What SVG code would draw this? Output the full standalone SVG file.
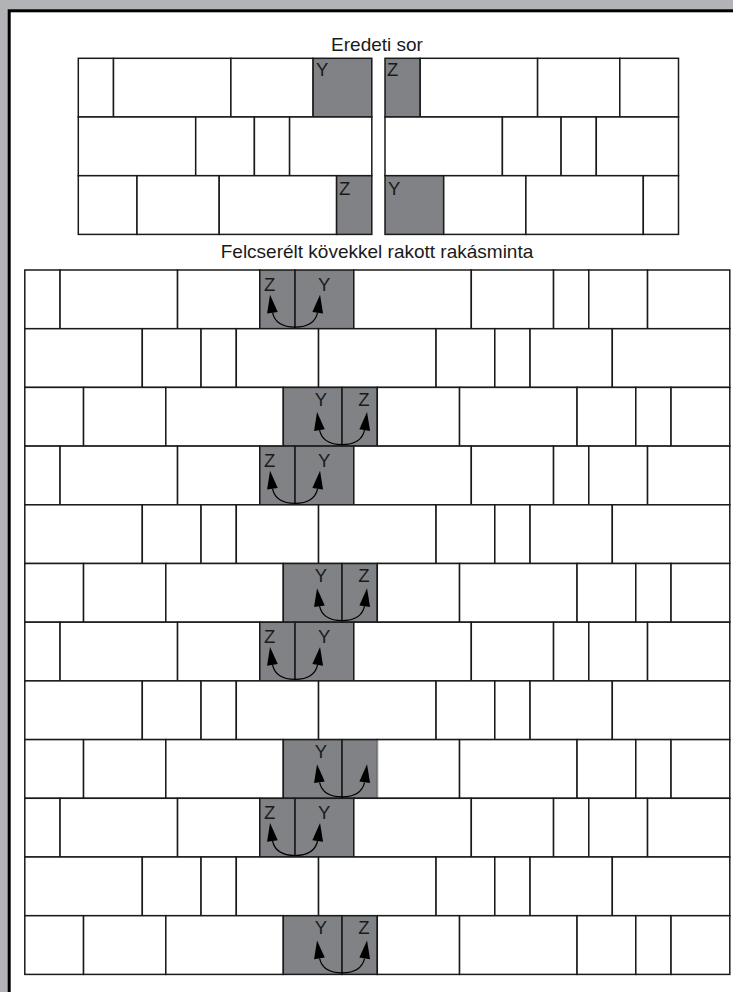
<svg xmlns="http://www.w3.org/2000/svg" xmlns:xlink="http://www.w3.org/1999/xlink" width="733" height="992" viewBox="0 0 733 992">
<style>
.b{fill:#fff;stroke:#1a1a1a;stroke-width:1.5}
.g{fill:#808285;stroke:#1a1a1a;stroke-width:1.5}
.t{font-family:"Liberation Sans",Arial,sans-serif;fill:#1a1a1a}
.title{font-size:19px;text-anchor:middle}
.lbl{font-size:18.5px}
.m{text-anchor:middle}
.arc{fill:none;stroke:#000;stroke-width:1.2}
</style>
<defs>
<g id="swap">
<path class="arc" d="M -22.5 -16 C -20 -5 -11 -1.5 0 -1.5 C 11 -1.5 20 -5 22.5 -16"/>
<polygon points="-25,-34 -28,-15.2 -17.3,-16.8" fill="#000"/>
<polygon points="25,-34 28,-15.2 17.3,-16.8" fill="#000"/>
</g>
</defs>
<rect x="0" y="0" width="733" height="992" fill="#b1b3b6"/>
<rect x="9.2" y="10.8" width="800" height="1100" fill="#fff" stroke="#000" stroke-width="3"/>
<text class="t title" x="377" y="51">Eredeti sor</text>
<g id="original-left">
<rect class="b" x="78.3" y="58.3" width="35.2" height="58.7"/>
<rect class="b" x="113.5" y="58.3" width="117.4" height="58.7"/>
<rect class="b" x="230.9" y="58.3" width="82.2" height="58.7"/>
<rect class="g" x="313.1" y="58.3" width="58.7" height="58.7"/>
<rect class="b" x="78.3" y="117" width="117.4" height="58.7"/>
<rect class="b" x="195.7" y="117" width="58.7" height="58.7"/>
<rect class="b" x="254.4" y="117" width="35.2" height="58.7"/>
<rect class="b" x="289.6" y="117" width="82.2" height="58.7"/>
<rect class="b" x="78.3" y="175.7" width="58.7" height="58.7"/>
<rect class="b" x="137" y="175.7" width="82.2" height="58.7"/>
<rect class="b" x="219.2" y="175.7" width="117.4" height="58.7"/>
<rect class="g" x="336.6" y="175.7" width="35.2" height="58.7"/>
<text class="t lbl" x="316" y="76">Y</text>
<text class="t lbl" x="339" y="194.8">Z</text>
</g>
<g id="original-right">
<rect class="g" x="385" y="58.3" width="35.2" height="58.7"/>
<rect class="b" x="420.2" y="58.3" width="117.4" height="58.7"/>
<rect class="b" x="537.6" y="58.3" width="82.2" height="58.7"/>
<rect class="b" x="619.8" y="58.3" width="58.7" height="58.7"/>
<rect class="b" x="385" y="117" width="117.4" height="58.7"/>
<rect class="b" x="502.4" y="117" width="58.7" height="58.7"/>
<rect class="b" x="561.1" y="117" width="35.2" height="58.7"/>
<rect class="b" x="596.3" y="117" width="82.2" height="58.7"/>
<rect class="g" x="385" y="175.7" width="58.7" height="58.7"/>
<rect class="b" x="443.7" y="175.7" width="82.2" height="58.7"/>
<rect class="b" x="525.9" y="175.7" width="117.4" height="58.7"/>
<rect class="b" x="643.3" y="175.7" width="35.2" height="58.7"/>
<text class="t lbl" x="387" y="76">Z</text>
<text class="t lbl" x="388" y="194.8">Y</text>
</g>
<text class="t title" x="377" y="258">Felcserélt kövekkel rakott rakásminta</text>
<g id="row1">
<rect class="b" x="24.8" y="270" width="35.25" height="58.7"/><rect class="b" x="60.05" y="270" width="117.5" height="58.7"/><rect class="b" x="177.55" y="270" width="82.25" height="58.7"/><rect class="g" x="259.8" y="270" width="35.25" height="58.7"/><rect class="g" x="295.05" y="270" width="58.75" height="58.7"/><rect class="b" x="353.8" y="270" width="117.5" height="58.7"/><rect class="b" x="471.3" y="270" width="82.25" height="58.7"/><rect class="b" x="553.55" y="270" width="35.25" height="58.7"/><rect class="b" x="588.8" y="270" width="58.75" height="58.7"/><rect class="b" x="647.55" y="270" width="82.25" height="58.7"/>
<text class="t lbl m" x="269.7" y="290.7">Z</text><text class="t lbl m" x="324.2" y="290.7">Y</text>
</g>
<g id="row2">
<rect class="b" x="24.8" y="328.7" width="117.5" height="58.7"/><rect class="b" x="142.3" y="328.7" width="58.75" height="58.7"/><rect class="b" x="201.05" y="328.7" width="35.25" height="58.7"/><rect class="b" x="236.3" y="328.7" width="82.25" height="58.7"/><rect class="b" x="318.55" y="328.7" width="117.5" height="58.7"/><rect class="b" x="436.05" y="328.7" width="58.75" height="58.7"/><rect class="b" x="494.8" y="328.7" width="35.25" height="58.7"/><rect class="b" x="530.05" y="328.7" width="82.25" height="58.7"/><rect class="b" x="612.3" y="328.7" width="117.5" height="58.7"/>
</g>
<g id="row3">
<rect class="b" x="24.8" y="387.4" width="58.75" height="58.7"/><rect class="b" x="83.55" y="387.4" width="82.25" height="58.7"/><rect class="b" x="165.8" y="387.4" width="117.5" height="58.7"/><rect class="g" x="283.3" y="387.4" width="58.75" height="58.7"/><rect class="g" x="342.05" y="387.4" width="35.25" height="58.7"/><rect class="b" x="377.3" y="387.4" width="82.25" height="58.7"/><rect class="b" x="459.55" y="387.4" width="117.5" height="58.7"/><rect class="b" x="577.05" y="387.4" width="58.75" height="58.7"/><rect class="b" x="635.8" y="387.4" width="35.25" height="58.7"/><rect class="b" x="671.05" y="387.4" width="58.75" height="58.7"/>
<text class="t lbl m" x="320.8" y="406">Y</text><text class="t lbl m" x="363.8" y="406">Z</text>
</g>
<g id="row4">
<rect class="b" x="24.8" y="446.1" width="35.25" height="58.7"/><rect class="b" x="60.05" y="446.1" width="117.5" height="58.7"/><rect class="b" x="177.55" y="446.1" width="82.25" height="58.7"/><rect class="g" x="259.8" y="446.1" width="35.25" height="58.7"/><rect class="g" x="295.05" y="446.1" width="58.75" height="58.7"/><rect class="b" x="353.8" y="446.1" width="117.5" height="58.7"/><rect class="b" x="471.3" y="446.1" width="82.25" height="58.7"/><rect class="b" x="553.55" y="446.1" width="35.25" height="58.7"/><rect class="b" x="588.8" y="446.1" width="58.75" height="58.7"/><rect class="b" x="647.55" y="446.1" width="82.25" height="58.7"/>
<text class="t lbl m" x="269.7" y="466.8">Z</text><text class="t lbl m" x="324.2" y="466.8">Y</text>
</g>
<g id="row5">
<rect class="b" x="24.8" y="504.8" width="117.5" height="58.7"/><rect class="b" x="142.3" y="504.8" width="58.75" height="58.7"/><rect class="b" x="201.05" y="504.8" width="35.25" height="58.7"/><rect class="b" x="236.3" y="504.8" width="82.25" height="58.7"/><rect class="b" x="318.55" y="504.8" width="117.5" height="58.7"/><rect class="b" x="436.05" y="504.8" width="58.75" height="58.7"/><rect class="b" x="494.8" y="504.8" width="35.25" height="58.7"/><rect class="b" x="530.05" y="504.8" width="82.25" height="58.7"/><rect class="b" x="612.3" y="504.8" width="117.5" height="58.7"/>
</g>
<g id="row6">
<rect class="b" x="24.8" y="563.5" width="58.75" height="58.7"/><rect class="b" x="83.55" y="563.5" width="82.25" height="58.7"/><rect class="b" x="165.8" y="563.5" width="117.5" height="58.7"/><rect class="g" x="283.3" y="563.5" width="58.75" height="58.7"/><rect class="g" x="342.05" y="563.5" width="35.25" height="58.7"/><rect class="b" x="377.3" y="563.5" width="82.25" height="58.7"/><rect class="b" x="459.55" y="563.5" width="117.5" height="58.7"/><rect class="b" x="577.05" y="563.5" width="58.75" height="58.7"/><rect class="b" x="635.8" y="563.5" width="35.25" height="58.7"/><rect class="b" x="671.05" y="563.5" width="58.75" height="58.7"/>
<text class="t lbl m" x="320.8" y="582.1">Y</text><text class="t lbl m" x="363.8" y="582.1">Z</text>
</g>
<g id="row7">
<rect class="b" x="24.8" y="622.2" width="35.25" height="58.7"/><rect class="b" x="60.05" y="622.2" width="117.5" height="58.7"/><rect class="b" x="177.55" y="622.2" width="82.25" height="58.7"/><rect class="g" x="259.8" y="622.2" width="35.25" height="58.7"/><rect class="g" x="295.05" y="622.2" width="58.75" height="58.7"/><rect class="b" x="353.8" y="622.2" width="117.5" height="58.7"/><rect class="b" x="471.3" y="622.2" width="82.25" height="58.7"/><rect class="b" x="553.55" y="622.2" width="35.25" height="58.7"/><rect class="b" x="588.8" y="622.2" width="58.75" height="58.7"/><rect class="b" x="647.55" y="622.2" width="82.25" height="58.7"/>
<text class="t lbl m" x="269.7" y="642.9">Z</text><text class="t lbl m" x="324.2" y="642.9">Y</text>
</g>
<g id="row8">
<rect class="b" x="24.8" y="680.9" width="117.5" height="58.7"/><rect class="b" x="142.3" y="680.9" width="58.75" height="58.7"/><rect class="b" x="201.05" y="680.9" width="35.25" height="58.7"/><rect class="b" x="236.3" y="680.9" width="82.25" height="58.7"/><rect class="b" x="318.55" y="680.9" width="117.5" height="58.7"/><rect class="b" x="436.05" y="680.9" width="58.75" height="58.7"/><rect class="b" x="494.8" y="680.9" width="35.25" height="58.7"/><rect class="b" x="530.05" y="680.9" width="82.25" height="58.7"/><rect class="b" x="612.3" y="680.9" width="117.5" height="58.7"/>
</g>
<g id="row9">
<rect class="b" x="24.8" y="739.6" width="58.75" height="58.7"/><rect class="b" x="83.55" y="739.6" width="82.25" height="58.7"/><rect class="b" x="165.8" y="739.6" width="117.5" height="58.7"/><rect class="g" x="283.3" y="739.6" width="58.75" height="58.7"/><rect class="b" x="377.3" y="739.6" width="82.25" height="58.7"/><rect class="b" x="459.55" y="739.6" width="117.5" height="58.7"/><rect class="b" x="577.05" y="739.6" width="58.75" height="58.7"/><rect class="b" x="635.8" y="739.6" width="35.25" height="58.7"/><rect class="b" x="671.05" y="739.6" width="58.75" height="58.7"/>
<rect class="g" x="342.05" y="739.6" width="35.25" height="58.7"/>
<line x1="377.3" y1="740.4" x2="377.3" y2="797.5" stroke="#8a8c8f" stroke-width="1.6"/>
<text class="t lbl m" x="320.8" y="758.2">Y</text>
</g>
<g id="row10">
<rect class="b" x="24.8" y="798.3" width="35.25" height="58.7"/><rect class="b" x="60.05" y="798.3" width="117.5" height="58.7"/><rect class="b" x="177.55" y="798.3" width="82.25" height="58.7"/><rect class="g" x="259.8" y="798.3" width="35.25" height="58.7"/><rect class="g" x="295.05" y="798.3" width="58.75" height="58.7"/><rect class="b" x="353.8" y="798.3" width="117.5" height="58.7"/><rect class="b" x="471.3" y="798.3" width="82.25" height="58.7"/><rect class="b" x="553.55" y="798.3" width="35.25" height="58.7"/><rect class="b" x="588.8" y="798.3" width="58.75" height="58.7"/><rect class="b" x="647.55" y="798.3" width="82.25" height="58.7"/>
<text class="t lbl m" x="269.7" y="819">Z</text><text class="t lbl m" x="324.2" y="819">Y</text>
</g>
<g id="row11">
<rect class="b" x="24.8" y="857" width="117.5" height="58.7"/><rect class="b" x="142.3" y="857" width="58.75" height="58.7"/><rect class="b" x="201.05" y="857" width="35.25" height="58.7"/><rect class="b" x="236.3" y="857" width="82.25" height="58.7"/><rect class="b" x="318.55" y="857" width="117.5" height="58.7"/><rect class="b" x="436.05" y="857" width="58.75" height="58.7"/><rect class="b" x="494.8" y="857" width="35.25" height="58.7"/><rect class="b" x="530.05" y="857" width="82.25" height="58.7"/><rect class="b" x="612.3" y="857" width="117.5" height="58.7"/>
</g>
<g id="row12">
<rect class="b" x="24.8" y="915.7" width="58.75" height="58.7"/><rect class="b" x="83.55" y="915.7" width="82.25" height="58.7"/><rect class="b" x="165.8" y="915.7" width="117.5" height="58.7"/><rect class="g" x="283.3" y="915.7" width="58.75" height="58.7"/><rect class="g" x="342.05" y="915.7" width="35.25" height="58.7"/><rect class="b" x="377.3" y="915.7" width="82.25" height="58.7"/><rect class="b" x="459.55" y="915.7" width="117.5" height="58.7"/><rect class="b" x="577.05" y="915.7" width="58.75" height="58.7"/><rect class="b" x="635.8" y="915.7" width="35.25" height="58.7"/><rect class="b" x="671.05" y="915.7" width="58.75" height="58.7"/>
<text class="t lbl m" x="320.8" y="934.3">Y</text><text class="t lbl m" x="363.8" y="934.3">Z</text>
</g>
<g id="connectors">
<use xlink:href="#swap" x="295.05" y="328.7"/>
<use xlink:href="#swap" x="342.05" y="446.1"/>
<use xlink:href="#swap" x="295.05" y="504.8"/>
<use xlink:href="#swap" x="342.05" y="622.2"/>
<use xlink:href="#swap" x="295.05" y="680.9"/>
<use xlink:href="#swap" x="342.05" y="798.3"/>
<use xlink:href="#swap" x="295.05" y="857"/>
<use xlink:href="#swap" x="342.05" y="974.4"/>
</g>
</svg>
